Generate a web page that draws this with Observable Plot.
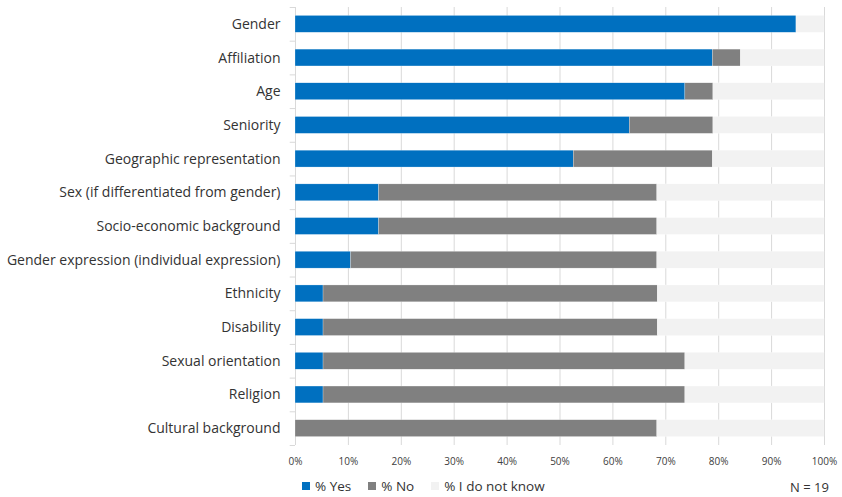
<!DOCTYPE html>
<html>
<head>
<meta charset="utf-8">
<script src="https://cdn.jsdelivr.net/npm/d3@7"></script>
<script src="https://cdn.jsdelivr.net/npm/@observablehq/plot@0.6"></script>
<style>
  html, body { margin: 0; padding: 0; background: #fff; }
  #wrap { position: relative; width: 842px; height: 497px; overflow: hidden; font-family: "Open Sans", sans-serif; }
  #chart { position: absolute; left: 0; top: 0; }
  #legend { position: absolute; left: 302px; top: 477px; display: flex; align-items: center; font-size: 13.5px; color: #333; }
  #legend .item { display: flex; align-items: center; margin-right: 17px; }
  #legend .sw { width: 8px; height: 8px; margin-right: 5px; }
  #note { position: absolute; left: 790px; top: 479px; font-size: 13px; line-height: 16px; color: #333; white-space: nowrap; }
</style>
</head>
<body>
<div id="wrap">
  <div id="chart"></div>
  <div id="legend"></div>
  <div id="note">N = 19</div>
</div>
<script>
const categories = [
  "Gender",
  "Affiliation",
  "Age",
  "Seniority",
  "Geographic representation",
  "Sex (if differentiated from gender)",
  "Socio-economic background",
  "Gender expression (individual expression)",
  "Ethnicity",
  "Disability",
  "Sexual orientation",
  "Religion",
  "Cultural background"
];
const seriesNames = ["% Yes", "% No", "% I do not know"];
const seriesColors = ["#0070C0", "#808080", "#F2F2F2"];
const yesPct = [94.7, 78.9, 73.7, 63.2, 52.6, 15.8, 15.8, 10.5, 5.3, 5.3, 5.3, 5.3, 0];
const noPct  = [0, 5.3, 5.3, 15.8, 26.3, 52.6, 52.6, 57.9, 63.2, 63.2, 68.4, 68.4, 68.4];
const dkPct  = [5.3, 15.8, 21.0, 21.0, 21.1, 31.6, 31.6, 31.6, 31.5, 31.5, 26.3, 26.3, 31.6];
const xTicks = [0, 10, 20, 30, 40, 50, 60, 70, 80, 90, 100];

const rows = [];
categories.forEach((c, i) => {
  [yesPct[i], noPct[i], dkPct[i]].forEach((v, k) => {
    rows.push({cat: c, series: seriesNames[k], value: v, k});
  });
});

const W = 842, H = 470;
const mTop = 7, mBottom = 25;
const step = (H - mTop - mBottom) / categories.length;

const plot = Plot.plot({
  width: W,
  height: H,
  marginLeft: 295,
  marginRight: 18,
  marginTop: mTop,
  marginBottom: mBottom,
  style: {fontFamily: "Open Sans, sans-serif", background: "#fff"},
  x: {domain: [0, 100], ticks: xTicks, tickFormat: d => d + "%", tickSize: 0, tickPadding: 12, label: null},
  y: {domain: categories, paddingInner: 0.5, paddingOuter: 0.25, round: false, tickSize: 0, tickPadding: 15, label: null},
  color: {domain: seriesNames, range: seriesColors},
  marks: [
    Plot.ruleX(xTicks, {stroke: "#d9d9d9", strokeWidth: 1}),
    Plot.ruleY(categories, {y: d => d, x1: -1, x2: 0, dy: -step / 2, stroke: "#d9d9d9"}),
    Plot.ruleY(categories.slice(-1), {y: d => d, x1: -1, x2: 0, dy: step / 2, stroke: "#d9d9d9"}),
    Plot.barX(rows, Plot.stackX({y: "cat", x: "value", fill: "series", order: null, stroke: "#ffffff", strokeWidth: 0.4, strokeOpacity: 0.6})),
    Plot.axisX({tickSize: 0, tickPadding: 12, ticks: xTicks, tickFormat: d => d + "%", fontSize: 10, fill: "#404040"}),
    Plot.axisY({tickSize: 0, tickPadding: 15, fontSize: 14, fill: "#333"})
  ]
});
document.getElementById("chart").appendChild(plot);

const legend = document.getElementById("legend");
seriesNames.forEach((s, i) => {
  const item = document.createElement("div");
  item.className = "item";
  const sw = document.createElement("div");
  sw.className = "sw";
  sw.style.background = seriesColors[i];
  const t = document.createElement("span");
  t.textContent = s;
  item.appendChild(sw);
  item.appendChild(t);
  legend.appendChild(item);
});
</script>
</body>
</html>
